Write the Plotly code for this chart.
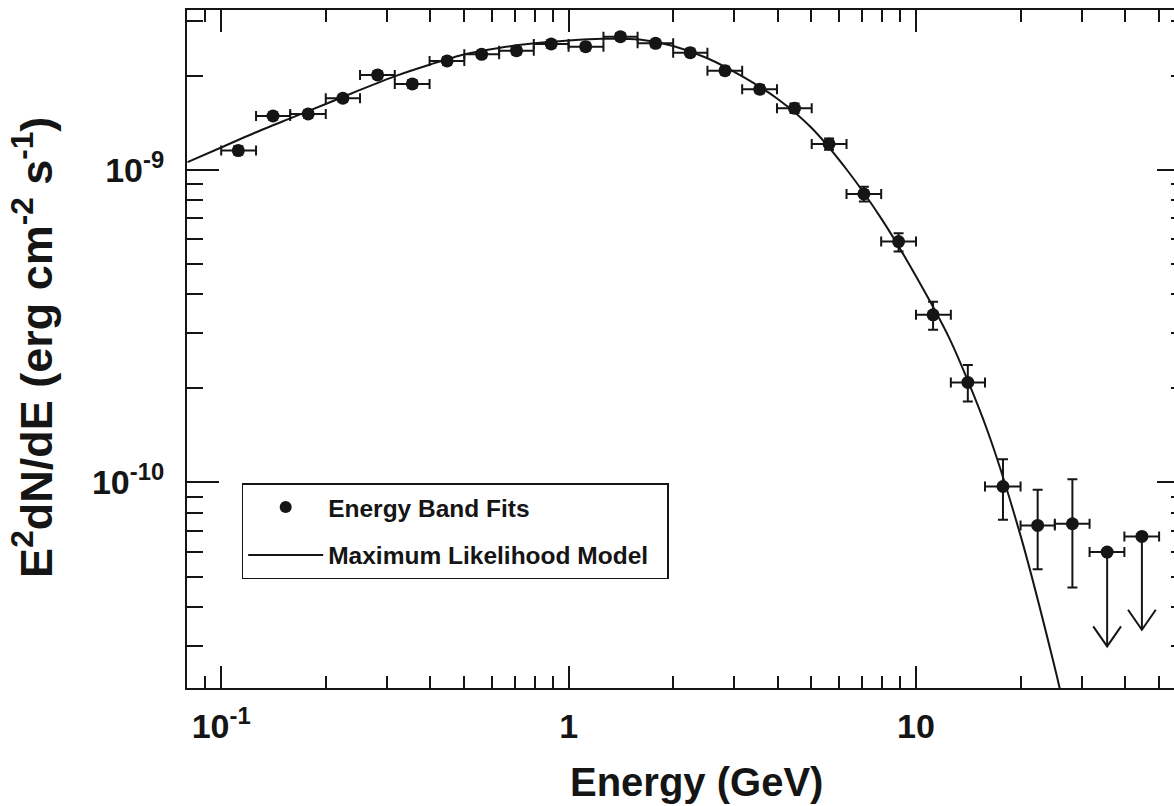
import plotly.graph_objects as go

# ---------------- data ----------------
energy = [0.112, 0.141, 0.178, 0.224, 0.282, 0.355, 0.447, 0.562, 0.708, 0.891,
          1.12, 1.41, 1.78, 2.24, 2.82, 3.55, 4.47, 5.62, 7.08, 8.91,
          11.2, 14.1, 17.8, 22.4, 28.2]
flux = [1.153e-9, 1.488e-9, 1.511e-9, 1.696e-9, 2.013e-9, 1.884e-9, 2.232e-9,
        2.344e-9, 2.407e-9, 2.529e-9, 2.479e-9, 2.669e-9, 2.542e-9, 2.372e-9,
        2.078e-9, 1.812e-9, 1.575e-9, 1.211e-9, 8.38e-10, 5.90e-10, 3.44e-10,
        2.09e-10, 9.71e-11, 7.29e-11, 7.38e-11]
flux_hi = [1.19e-9, 1.53e-9, 1.55e-9, 1.74e-9, 2.07e-9, 1.94e-9, 2.29e-9,
           2.41e-9, 2.47e-9, 2.60e-9, 2.55e-9, 2.74e-9, 2.61e-9, 2.44e-9,
           2.14e-9, 1.87e-9, 1.63e-9, 1.26e-9, 8.84e-10, 6.27e-10, 3.79e-10,
           2.378e-10, 1.187e-10, 9.48e-11, 1.024e-10]
flux_lo = [1.12e-9, 1.45e-9, 1.47e-9, 1.65e-9, 1.96e-9, 1.83e-9, 2.17e-9,
           2.28e-9, 2.34e-9, 2.46e-9, 2.41e-9, 2.60e-9, 2.47e-9, 2.31e-9,
           2.02e-9, 1.76e-9, 1.52e-9, 1.16e-9, 7.92e-10, 5.48e-10, 3.08e-10,
           1.815e-10, 7.60e-11, 5.28e-11, 4.61e-11]
band_lo = [0.1, 0.126, 0.158, 0.2, 0.251, 0.316, 0.398, 0.501, 0.631, 0.794,
           1.0, 1.26, 1.58, 2.0, 2.51, 3.16, 3.98, 5.01, 6.31, 7.94,
           10.0, 12.6, 15.8, 20.0, 25.1]
band_hi = [0.126, 0.158, 0.2, 0.251, 0.316, 0.398, 0.501, 0.631, 0.794, 1.0,
           1.26, 1.58, 2.0, 2.51, 3.16, 3.98, 5.01, 6.31, 7.94, 10.0,
           12.6, 15.8, 20.0, 25.1, 31.6]

ul_energy = [35.5, 44.7]
ul_flux = [5.99e-11, 6.72e-11]
ul_tip = [2.99e-11, 3.38e-11]
ul_band_lo = [31.6, 39.8]
ul_band_hi = [39.8, 50.1]

model_energy = [0.08, 0.1, 0.125, 0.16, 0.2, 0.25, 0.32, 0.4, 0.5, 0.63, 0.8,
                1.0, 1.25, 1.6, 2.0, 2.5, 3.2, 4.0, 5.0, 6.3, 8.0, 10.0,
                12.5, 16.0, 20.0, 25.0, 28.0]
model_flux = [1.059e-9, 1.180e-9, 1.315e-9, 1.470e-9, 1.625e-9, 1.800e-9,
              2.004e-9, 2.175e-9, 2.342e-9, 2.456e-9, 2.541e-9, 2.595e-9,
              2.628e-9, 2.613e-9, 2.492e-9, 2.281e-9, 1.977e-9, 1.687e-9,
              1.365e-9, 1.007e-9, 6.91e-10, 4.57e-10, 2.88e-10, 1.48e-10,
              6.76e-11, 2.60e-11, 1.51e-11]

x_major = [0.1, 1, 10]
x_major_text = ["10<sup>-1</sup>", "1", "10"]
x_minor = [0.09] + [m * 0.1 for m in range(2, 10)] + list(range(2, 10)) + [20, 30, 40, 50]
y_major = [1e-10, 1e-9]
y_major_text = ["10<sup>-10</sup>", "10<sup>-9</sup>"]
y_minor = [m * 1e-11 for m in range(3, 10)] + [m * 1e-10 for m in range(2, 10)] + [2e-9, 3e-9]

x_title = "Energy (GeV)"
y_title = "E<sup>2</sup>dN/dE (erg cm<sup>-2</sup> s<sup>-1</sup>)"
legend_points = "Energy Band Fits"
legend_model = "Maximum Likelihood Model"

# ---------------- styling ----------------
INK = "#151515"
FONT = "Liberation Sans, Arial, Helvetica, sans-serif"
XR = [-1.0984, 1.7427]
YR = [-10.6575, -8.4883]

fig = go.Figure()

# model curve
fig.add_trace(go.Scatter(
    x=model_energy, y=model_flux, mode="lines",
    line=dict(color=INK, width=2, shape="spline", smoothing=0.8),
    name=legend_model + "\u00a0\u00a0", legendgroup="b", legendrank=2,
    hoverinfo="skip"))

# energy band fits
fig.add_trace(go.Scatter(
    x=energy, y=flux, mode="markers",
    marker=dict(color=INK, size=13),
    error_x=dict(type="data", symmetric=False,
                 array=[h - e for h, e in zip(band_hi, energy)],
                 arrayminus=[e - l for e, l in zip(energy, band_lo)],
                 color=INK, thickness=2, width=5),
    error_y=dict(type="data", symmetric=False,
                 array=[h - f for h, f in zip(flux_hi, flux)],
                 arrayminus=[f - l for f, l in zip(flux, flux_lo)],
                 color=INK, thickness=2, width=5),
    showlegend=False, name=legend_points))

# upper limits
fig.add_trace(go.Scatter(
    x=ul_energy, y=ul_flux, mode="markers",
    marker=dict(color=INK, size=13),
    error_x=dict(type="data", symmetric=False,
                 array=[h - e for h, e in zip(ul_band_hi, ul_energy)],
                 arrayminus=[e - l for e, l in zip(ul_energy, ul_band_lo)],
                 color=INK, thickness=2, width=5),
    error_y=dict(type="data", symmetric=False,
                 array=[0 for _ in ul_flux],
                 arrayminus=[f - t for f, t in zip(ul_flux, ul_tip)],
                 color=INK, thickness=2, width=0),
    showlegend=False))

# arrow heads (open V) at the tip of each upper limit
arm_dx = 10 ** 0.040
arm_dy = 10 ** 0.064
vx, vy = [], []
for e, t in zip(ul_energy, ul_tip):
    vx += [e / arm_dx, e, e * arm_dx, None]
    vy += [t * arm_dy, t, t * arm_dy, None]
fig.add_trace(go.Scatter(x=vx, y=vy, mode="lines",
                         line=dict(color=INK, width=2),
                         showlegend=False, hoverinfo="skip"))

# legend-only marker entry
fig.add_trace(go.Scatter(x=[None], y=[None], mode="markers",
                         marker=dict(color=INK, size=12),
                         name=legend_points, legendgroup="a", legendrank=1))

# invisible trace to carry the right-hand tick axis
fig.add_trace(go.Scatter(x=[None], y=[None], yaxis="y2", showlegend=False,
                         hoverinfo="skip"))

tickfont = dict(family=FONT, size=34, color=INK, weight="bold")

fig.update_layout(
    width=1174, height=806,
    margin=dict(l=187, r=0, t=10, b=118),
    paper_bgcolor="white", plot_bgcolor="white",
    showlegend=True,
    xaxis=dict(type="log", range=XR, showline=True, linecolor=INK, linewidth=2,
               mirror="ticks", ticks="inside", ticklen=22, tickwidth=2,
               tickcolor=INK, tickmode="array", tickvals=x_major,
               ticktext=x_major_text, tickfont=tickfont, showgrid=False,
               zeroline=False, ticklabelstandoff=7,
               minor=dict(ticks="inside", ticklen=12, tickwidth=2,
                          tickcolor=INK, tickmode="array", tickvals=x_minor,
                          showgrid=False)),
    yaxis=dict(type="log", range=YR, showline=True, linecolor=INK, linewidth=2,
               mirror=False, ticks="inside", ticklen=32, tickwidth=2,
               tickcolor=INK, tickmode="array", tickvals=y_major,
               ticktext=y_major_text, tickfont=tickfont, showgrid=False,
               zeroline=False, ticklabelstandoff=14,
               minor=dict(ticks="inside", ticklen=16, tickwidth=2,
                          tickcolor=INK, tickmode="array", tickvals=y_minor,
                          showgrid=False)),
    yaxis2=dict(type="log", range=YR, overlaying="y", side="right", anchor="x",
                showline=False, ticks="inside", ticklen=17, tickwidth=2,
                tickcolor=INK, tickmode="array", tickvals=y_major,
                showticklabels=False, showgrid=False, zeroline=False,
                minor=dict(ticks="inside", ticklen=3, tickwidth=2,
                           tickcolor=INK, tickmode="array", tickvals=y_minor,
                           showgrid=False)),
    legend=dict(x=0.0554, y=0.3022, xanchor="left", yanchor="top",
                bgcolor="white", bordercolor=INK, borderwidth=1.5,
                font=dict(family=FONT, size=24.5, color=INK, weight="bold"),
                traceorder="grouped", tracegroupgap=13, itemwidth=75),
    annotations=[
        dict(text=x_title, xref="paper", yref="paper", x=0.516, y=-0.138,
             xanchor="center", yanchor="middle", showarrow=False,
             font=dict(family=FONT, size=40, color=INK, weight="bold")),
        dict(text=y_title, xref="paper", yref="paper", x=-0.156, y=0.5017,
             xanchor="center", yanchor="middle", showarrow=False,
             textangle=-90,
             font=dict(family=FONT, size=45, color=INK, weight="bold")),
    ],
)

fig.write_html("out.html")
